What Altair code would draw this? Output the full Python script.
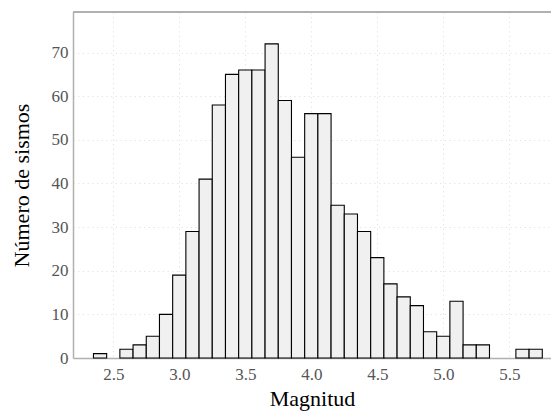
import altair as alt
import pandas as pd

bin_start = [2.35, 2.45, 2.55, 2.65, 2.75, 2.85, 2.95, 3.05, 3.15, 3.25, 3.35, 3.45,
             3.55, 3.65, 3.75, 3.85, 3.95, 4.05, 4.15, 4.25, 4.35, 4.45, 4.55, 4.65,
             4.75, 4.85, 4.95, 5.05, 5.15, 5.25, 5.35, 5.45, 5.55, 5.65]
bin_end = [2.45, 2.55, 2.65, 2.75, 2.85, 2.95, 3.05, 3.15, 3.25, 3.35, 3.45, 3.55,
           3.65, 3.75, 3.85, 3.95, 4.05, 4.15, 4.25, 4.35, 4.45, 4.55, 4.65, 4.75,
           4.85, 4.95, 5.05, 5.15, 5.25, 5.35, 5.45, 5.55, 5.65, 5.75]
counts = [1, 0, 2, 3, 5, 10, 19, 29, 41, 58, 65, 66,
          66, 72, 59, 46, 56, 56, 35, 33, 29, 23, 17, 14,
          12, 6, 5, 13, 3, 3, 0, 0, 2, 2]
x_ticks = [2.5, 3.0, 3.5, 4.0, 4.5, 5.0, 5.5]
y_ticks = [0, 10, 20, 30, 40, 50, 60, 70]

df = pd.DataFrame({"start": bin_start, "end": bin_end, "count": counts})

FONT = "Liberation Serif"
SPINE = "#b0b0b0"
LBL = "#555555"

bars = alt.Chart(df).transform_filter("datum.count > 0").mark_bar(
    fill="#f0f0f0", stroke="black", strokeWidth=1.1
).encode(
    x=alt.X("start:Q",
            scale=alt.Scale(domain=[2.195, 5.816], nice=False, zero=False),
            axis=alt.Axis(values=x_ticks, format=".1f", title="Magnitud",
                          labelFont=FONT, titleFont=FONT, labelFontSize=17,
                          titleFontSize=22, labelColor=LBL,
                          grid=True, ticks=False, labelPadding=8, titlePadding=6)),
    x2="end:Q",
    y=alt.Y("count:Q",
            scale=alt.Scale(domain=[0, 79.3], nice=False),
            axis=alt.Axis(values=y_ticks, title="Número de sismos",
                          labelFont=FONT, titleFont=FONT, labelFontSize=17,
                          titleFontSize=22, labelColor=LBL,
                          grid=True, ticks=False, labelPadding=5, titlePadding=18)),
    y2=alt.datum(0),
)

top = alt.Chart(df).mark_rule(color=SPINE, strokeWidth=1.5).encode(
    x=alt.value(0), x2=alt.value(478), y=alt.value(0)
)

chart = alt.layer(bars, top).properties(
    width=478, height=346,
    autosize=alt.AutoSizeParams(type="none"),
    padding={"left": 65, "top": 4, "right": 0, "bottom": 53},
).configure_view(stroke=None).configure_axis(
    labelFont=FONT, titleFont=FONT,
    titleColor="black", titleFontWeight="normal",
    domainColor=SPINE, domainWidth=1.5,
    gridColor="#e2e2e2", gridDash=[1.2, 3.5], gridWidth=1,
)

chart.save("out.html", embed_options={"renderer": "svg", "actions": False})
